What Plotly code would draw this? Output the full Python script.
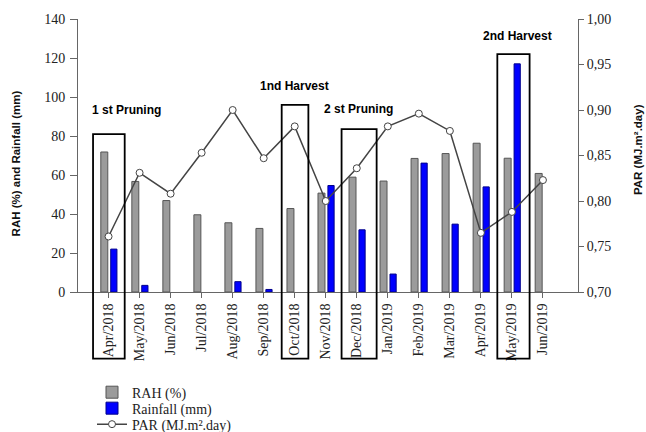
import plotly.graph_objects as go

# ---------------- data ----------------
months = ["Apr/2018", "May/2018", "Jun/2018", "Jul/2018", "Aug/2018", "Sep/2018",
          "Oct/2018", "Nov/2018", "Dec/2018", "Jan/2019", "Feb/2019", "Mar/2019",
          "Apr/2019", "May/2019", "Jun/2019"]
rah = [71.8, 56.7, 46.9, 39.6, 35.5, 32.6, 42.8, 50.7, 58.9, 56.9, 68.5, 71.0, 76.3, 68.6, 60.8]
rainfall = [22.0, 3.4, 0, 0, 5.3, 1.3, 0, 54.6, 31.9, 9.2, 66.1, 34.8, 53.9, 117.0, 0]
par = [0.761, 0.831, 0.808, 0.853, 0.900, 0.847, 0.882, 0.800, 0.836, 0.882,
       0.896, 0.877, 0.765, 0.788, 0.823]

event_months = ["Apr/2018", "Oct/2018", "Dec/2018", "May/2019"]
event_tops = [81, 96, 83.5, 122]
event_labels = ["1 st Pruning", "1nd Harvest", "2 st Pruning", "2nd Harvest"]

# ---------------- figure ----------------
XMIN, XMAX = -0.985, 15.13

fig = go.Figure()
fig.add_trace(go.Bar(
    x=months, y=rah, name="RAH (%)", width=0.225, offset=-0.25, legend="legend",
    marker=dict(color="#9b9b9b", line=dict(color="#555555", width=1)),
))
fig.add_trace(go.Bar(
    # months without rain get no visible bar
    x=months, y=[v if v > 0 else None for v in rainfall], name="Rainfall (mm)",
    width=0.2, offset=0.07, legend="legend2",
    marker=dict(color="#0000ff", line=dict(color="#00008b", width=1)),
))
fig.add_trace(go.Scatter(
    x=months, y=par, name="PAR (MJ.m².day)", yaxis="y2", mode="lines+markers",
    legend="legend3",
    line=dict(color="#444444", width=1.5),
    marker=dict(symbol="circle", size=7, color="white", line=dict(color="#444444", width=1)),
))

# event boxes and labels
box_extents = {"Apr/2018": (-0.5, 0.52), "Oct/2018": (-0.42, 0.44),
               "Dec/2018": (-0.49, 0.64), "May/2019": (-0.47, 0.57)}
label_pos = {"Apr/2018": (0.57, 93.4), "Oct/2018": (5.98, 105.7),
             "Dec/2018": (8.07, 93.9), "May/2019": (13.18, 131.3)}

def xpaper(v):
    return (v - XMIN) / (XMAX - XMIN)

for m, top, lab in zip(event_months, event_tops, event_labels):
    i = months.index(m)
    l, r = box_extents[m]
    fig.add_shape(type="rect", xref="paper", yref="paper",
                  x0=xpaper(i + l), x1=xpaper(i + r), y0=-0.244, y1=top / 140,
                  line=dict(color="black", width=1.8), fillcolor="rgba(0,0,0,0)", layer="above")
    lx, ly = label_pos[m]
    fig.add_annotation(x=lx, y=ly, xref="x", yref="y", text="<b>%s</b>" % lab,
                       showarrow=False, font=dict(family="Liberation Sans", size=12, color="black"))

# axis titles
fig.add_annotation(x=-0.124, y=0.471, xref="paper", yref="paper", textangle=-90,
                   xanchor="center", yanchor="middle",
                   text="<b>RAH (%) and Rainfall (mm)</b>", showarrow=False,
                   font=dict(family="Liberation Sans", size=11.5, color="#111"))
fig.add_annotation(x=1.12, y=0.52, xref="paper", yref="paper", textangle=-90,
                   xanchor="center", yanchor="middle",
                   text="<b>PAR (MJ.m².day)</b>", showarrow=False,
                   font=dict(family="Liberation Sans", size=11.5, color="#111"))

axis_common = dict(showline=True, linecolor="#666666", linewidth=1, ticks="outside",
                   tickcolor="#666666", showgrid=False, zeroline=False, automargin=False)
serif = dict(family="Liberation Serif", size=14, color="#222")

legend_common = dict(x=0.028, xanchor="left", yanchor="middle",
                     font=dict(family="Liberation Serif", size=14, color="#222"),
                     bgcolor="rgba(0,0,0,0)", itemwidth=30, borderwidth=0)

fig.update_layout(
    width=646, height=432,
    margin=dict(l=78, r=68, t=19, b=140, autoexpand=False),
    plot_bgcolor="white", paper_bgcolor="white",
    separators=",.",
    barmode="overlay",
    showlegend=True,
    xaxis=dict(type="category", range=[XMIN, XMAX], tickangle=-90, ticklen=5,
               tickfont=dict(family="Liberation Serif", size=14, color="#222"), **axis_common),
    yaxis=dict(range=[0, 140], dtick=20, ticklen=7, tickfont=serif,
               ticklabelstandoff=2, **axis_common),
    yaxis2=dict(range=[0.70, 1.00], dtick=0.05, tickformat=".2f", overlaying="y",
                side="right", ticklen=5, tickfont=serif, **axis_common),
    legend=dict(y=-0.3685, **legend_common),
    legend2=dict(y=-0.427, **legend_common),
    legend3=dict(y=-0.4855, **legend_common),
)

fig.write_html("out.html", config={"displayModeBar": False},
               post_script="document.body.style.margin='0';")
